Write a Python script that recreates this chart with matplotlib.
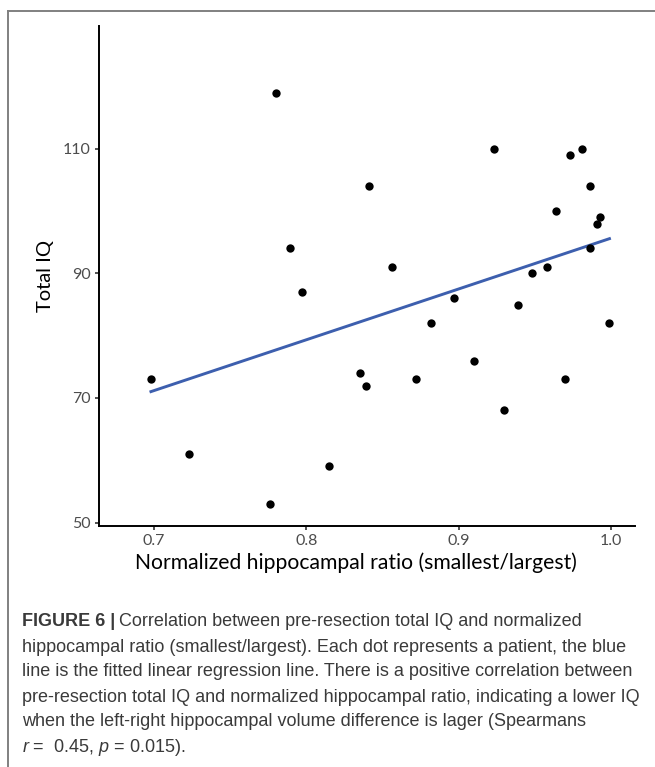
import numpy as np
import matplotlib
matplotlib.use('Agg')
import matplotlib.pyplot as plt
from matplotlib.lines import Line2D

# normalized hippocampal ratio (smallest/largest) and total IQ, one entry per patient
ratio = [0.780, 0.841, 0.923, 0.973, 0.981, 0.986,
         0.964, 0.993, 0.991, 0.789, 0.986, 0.856, 0.948, 0.958,
         0.797, 0.897, 0.939, 0.882, 0.999, 0.910, 0.835, 0.698,
         0.872, 0.970, 0.839, 0.930, 0.723, 0.815, 0.776]
total_iq = [119, 104, 110, 109, 110, 104,
            100, 99, 98, 94, 94, 91, 90, 91,
            87, 86, 85, 82, 82, 76, 74, 73,
            73, 73, 72, 68, 61, 59, 53]

x_ticks = [0.7, 0.8, 0.9, 1.0]
x_tick_labels = ['0.7', '0.8', '0.9', '1.0']
y_ticks = [50, 70, 90, 110]

caption_lines = [
    'hippocampal ratio (smallest/largest). Each dot represents a patient, the blue',
    'line is the fitted linear regression line. There is a positive correlation between',
    'pre-resection total IQ and normalized hippocampal ratio, indicating a lower IQ',
    'when the left-right hippocampal volume difference is lager (Spearmans',
]

plt.rcParams['mathtext.fontset'] = 'custom'
plt.rcParams['mathtext.it'] = 'Liberation Sans:italic'
plt.rcParams['mathtext.rm'] = 'Liberation Sans'

W, H = 655, 767
fig = plt.figure(figsize=(W / 100, H / 100), dpi=100)
ax = fig.add_axes([99 / W, 1 - 526 / H, (635.5 - 99) / W, (526 - 26) / H])

ax.scatter(ratio, total_iq, s=36, color='black', zorder=3, linewidths=0)

# fitted linear regression line over the data range
slope, intercept = np.polyfit(ratio, total_iq, 1)
xs = np.array([min(ratio), max(ratio)])
ax.plot(xs, slope * xs + intercept, color='#3d5fae', lw=2.1, zorder=2)

ax.set_xlim(0.6639, 1.0161)
ax.set_ylim(49.45, 129.7)
ax.set_xticks(x_ticks)
ax.set_xticklabels(x_tick_labels)
ax.set_yticks(y_ticks)

for lab in ax.get_xticklabels() + ax.get_yticklabels():
    lab.set_fontfamily('Lato')
    lab.set_fontsize(11.5)
    lab.set_color('#4d4d4d')

ax.set_xlabel('Normalized hippocampal ratio (smallest/largest)',
              family='Lato', size=15.2, color='black', labelpad=2)
ax.xaxis.set_label_coords(0.479, -0.052, transform=ax.transAxes)
ax.xaxis.label.set_va('top')
ax.set_ylabel('Total IQ', family='Lato', size=14.5, color='black', labelpad=6)

for side in ['top', 'right']:
    ax.spines[side].set_visible(False)
for side in ['left', 'bottom']:
    ax.spines[side].set_linewidth(1.4)
    ax.spines[side].set_color('black')
ax.tick_params(length=3, width=1.2, color='#333333', pad=3)

# page frame (left and top border of the figure panel)
fig.add_artist(Line2D([7.5 / W, 7.5 / W], [0, 1 - 11 / H], color='#808080', lw=1.4))
fig.add_artist(Line2D([7.5 / W, 1], [1 - 11 / H, 1 - 11 / H], color='#808080', lw=1.4))

# caption
cap_color = '#3a3a3a'
cap_size = 13.0
cap_x = 22 / W
line_y = [621.5, 647, 672, 697, 722, 747]
head = fig.text(cap_x, 1 - line_y[0] / H, 'FIGURE 6 |', family='Liberation Sans',
                weight='bold', size=cap_size, color=cap_color, va='center')
fig.canvas.draw()
bb = head.get_window_extent()
fig.text((bb.x1 + 4) / W, 1 - line_y[0] / H,
         'Correlation between pre-resection total IQ and normalized',
         family='Liberation Sans', size=cap_size, color=cap_color, va='center')
for i, line in enumerate(caption_lines):
    fig.text(cap_x, 1 - line_y[i + 1] / H, line, family='Liberation Sans',
             size=cap_size, color=cap_color, va='center')
fig.text(cap_x, 1 - line_y[5] / H, r'$r$ =  0.45, $p$ = 0.015).',
         family='Liberation Sans', size=cap_size, color=cap_color, va='center')

fig.savefig('out.png', dpi=100)
